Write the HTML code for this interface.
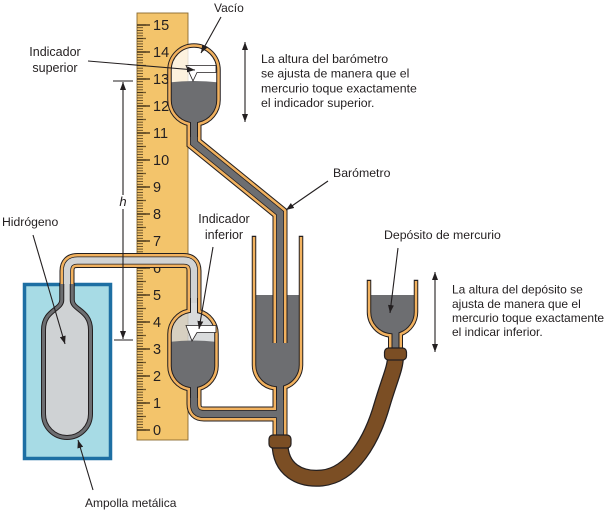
<!DOCTYPE html>
<html><head><meta charset="utf-8">
<style>
html,body{margin:0;padding:0;background:#fff;}
svg{display:block;}
text{font-family:"Liberation Sans",Arial,sans-serif;fill:#231f20;}
</style></head><body>
<svg width="607" height="512" viewBox="0 0 607 512" xmlns="http://www.w3.org/2000/svg">
<defs>
<marker id="ah" viewBox="0 0 8 6" refX="8" refY="3" markerWidth="8" markerHeight="6" markerUnits="userSpaceOnUse" orient="auto-start-reverse"><path d="M0,0 L8,3 L0,6 z" fill="#231f20"/></marker>
<pattern id="pmin" patternUnits="userSpaceOnUse" x="137" y="428.65" width="20" height="2.7"><line x1="0" y1="1.35" x2="6" y2="1.35" stroke="#3a2a12" stroke-width="0.75"/></pattern>
<pattern id="pmid" patternUnits="userSpaceOnUse" x="137" y="423.25" width="20" height="13.5"><line x1="0" y1="6.75" x2="9" y2="6.75" stroke="#3a2a12" stroke-width="0.9"/></pattern>
<pattern id="pmaj" patternUnits="userSpaceOnUse" x="137" y="416.5" width="20" height="27"><line x1="0" y1="13.5" x2="13" y2="13.5" stroke="#3a2a12" stroke-width="1.3"/></pattern>
<clipPath id="cTop"><path d="M188.75,137 L188.75,123.9 A24.5,24.5 0 0 1 169.5,100 L169.5,70 A24.5,24.5 0 0 1 218.5,70 L218.5,100 A24.5,24.5 0 0 1 199.25,123.9 L199.25,137 Z"/></clipPath>
<clipPath id="cLow"><path d="M188.75,298 L188.75,310.9 A23.5,23.5 0 0 0 169.5,334 L169.5,366 A23.5,23.5 0 0 0 188.75,389.1 L188.75,400 L199.25,400 L199.25,388.65 A23.5,23.5 0 0 0 216.5,366 L216.5,334 A23.5,23.5 0 0 0 199.25,311.35 L199.25,298 Z"/></clipPath>
</defs>

<!-- Blue box + metal bulb -->
<rect x="24.5" y="284.5" width="86" height="174" fill="#a7dbe5" stroke="#1d6fa3" stroke-width="3.5"/>
<path d="M61.75,283 L61.75,300 C61.75,310 43.5,310 43.5,330 L43.5,414 A23.5,23.5 0 0 0 90.5,414 L90.5,330 C90.5,310 72.25,310 72.25,300 L72.25,283 Z" fill="#cfd2d4"/>
<g fill="none">
<path d="M61.75,283 L61.75,300 C61.75,310 43.5,310 43.5,330 L43.5,414 A23.5,23.5 0 0 0 90.5,414 L90.5,330 C90.5,310 72.25,310 72.25,300 L72.25,283" stroke="#231f20" stroke-width="5"/>
<path d="M61.75,283 L61.75,300 C61.75,310 43.5,310 43.5,330 L43.5,414 A23.5,23.5 0 0 0 90.5,414 L90.5,330 C90.5,310 72.25,310 72.25,300 L72.25,283" stroke="#6d6e71" stroke-width="3"/>
</g>

<!-- Ruler -->
<rect x="137" y="13" width="51" height="427" fill="#f3c46b" stroke="#8a6a30" stroke-width="0.9"/>
<rect x="137" y="24" width="20" height="407" fill="url(#pmin)"/>
<rect x="137" y="24" width="20" height="407" fill="url(#pmid)"/>
<rect x="137" y="24" width="20" height="407" fill="url(#pmaj)"/>
<g font-size="14.5">
<text x="153" y="435.2">0</text>
<text x="153" y="408.2">1</text>
<text x="153" y="381.2">2</text>
<text x="153" y="354.2">3</text>
<text x="153" y="327.2">4</text>
<text x="153" y="300.2">5</text>
<text x="153" y="273.2">6</text>
<text x="153" y="246.2">7</text>
<text x="153" y="219.2">8</text>
<text x="153" y="192.2">9</text>
<text x="153" y="165.2">10</text>
<text x="153" y="138.2">11</text>
<text x="153" y="111.2">12</text>
<text x="153" y="84.2">13</text>
<text x="153" y="57.2">14</text>
<text x="153" y="30.2">15</text>
</g>

<!-- Interiors -->
<path d="M254,295 L301,295 L301,365 A23.5,23.5 0 0 1 285.25,387.2 L285.25,401 L274.75,401 L274.75,388.3 A23.5,23.5 0 0 1 254,365 Z" fill="#6d6e71"/>
<path d="M369,295 L416,295 L416,312 A23.5,23.5 0 0 1 400.75,334 L400.75,353 L390.25,353 L390.25,335.4 A23.5,23.5 0 0 1 369,312 Z" fill="#6d6e71"/>
<g clip-path="url(#cTop)">
<rect x="160" y="40" width="70" height="100" fill="#ffffff" fill-opacity="0.78"/>
<path d="M165,83 Q194,79 223,83 L223,140 L165,140 Z" fill="#6d6e71"/>
</g>
<g clip-path="url(#cLow)">
<rect x="160" y="295" width="70" height="110" fill="#d1d3d4" fill-opacity="0.82"/>
<path d="M165,342.5 Q193,338.5 221,342.5 L221,405 L165,405 Z" fill="#6d6e71"/>
</g>

<!-- Tubes (layered) -->
<g fill="none" stroke-linejoin="miter">
<g stroke="#231f20" stroke-width="15">
<path d="M194,133 L194,143 L280,213 L280,343"/>
<path d="M67,284 L67,271 Q67,260.5 77.5,260.5 L183.5,260.5 Q194,260.5 194,271 L194,303"/>
<path d="M194,394 L194,404 Q194,414 204,414 L280,414"/>
<path d="M280,394 L280,442"/>
</g>
<g stroke="#f2b25f" stroke-width="13">
<path d="M194,133 L194,143 L280,213 L280,343"/>
<path d="M67,284 L67,271 Q67,260.5 77.5,260.5 L183.5,260.5 Q194,260.5 194,271 L194,303"/>
<path d="M194,394 L194,404 Q194,414 204,414 L280,414"/>
<path d="M280,394 L280,442"/>
</g>
<g stroke="#231f20" stroke-width="8">
<path d="M194,133 L194,143 L280,213 L280,343"/>
<path d="M67,284 L67,271 Q67,260.5 77.5,260.5 L183.5,260.5 Q194,260.5 194,271 L194,303"/>
<path d="M194,394 L194,404 Q194,414 204,414 L280,414"/>
<path d="M280,394 L280,442"/>
</g>
<g stroke-width="6.5">
<path d="M194,133 L194,143 L280,213 L280,343" stroke="#6d6e71"/>
<path d="M67,284 L67,271 Q67,260.5 77.5,260.5 L183.5,260.5 Q194,260.5 194,271 L194,303" stroke="#d1d3d4"/>
<path d="M194,394 L194,404 Q194,414 204,414 L280,414" stroke="#6d6e71"/>
<path d="M280,394 L280,442" stroke="#6d6e71"/>
</g>
</g>

<!-- Walls of bulbs / reservoirs -->
<g fill="none">
<g stroke="#231f20" stroke-width="4.5">
<path d="M188.75,137 L188.75,123.9 A24.5,24.5 0 0 1 169.5,100 L169.5,70 A24.5,24.5 0 0 1 218.5,70 L218.5,100 A24.5,24.5 0 0 1 199.25,123.9 L199.25,137"/>
<path d="M188.75,298 L188.75,310.9 A23.5,23.5 0 0 0 169.5,334 L169.5,366 A23.5,23.5 0 0 0 188.75,389.1 L188.75,398"/>
<path d="M199.25,298 L199.25,311.35 A23.5,23.5 0 0 1 216.5,334 L216.5,366 A23.5,23.5 0 0 1 199.25,388.65 L199.25,398"/>
<path d="M254,235.8 L254,365 A23.5,23.5 0 0 0 274.75,388.3 L274.75,400"/>
<path d="M301,235.8 L301,365 A23.5,23.5 0 0 1 285.25,387.2 L285.25,400"/>
<path d="M369,279.8 L369,312 A23.5,23.5 0 0 0 390.25,335.4 L390.25,352"/>
<path d="M416,279.8 L416,312 A23.5,23.5 0 0 1 400.75,334 L400.75,352"/>
</g>
<g stroke="#f2b25f" stroke-width="2.5">
<path d="M188.75,137 L188.75,123.9 A24.5,24.5 0 0 1 169.5,100 L169.5,70 A24.5,24.5 0 0 1 218.5,70 L218.5,100 A24.5,24.5 0 0 1 199.25,123.9 L199.25,137"/>
<path d="M188.75,298 L188.75,310.9 A23.5,23.5 0 0 0 169.5,334 L169.5,366 A23.5,23.5 0 0 0 188.75,389.1 L188.75,398"/>
<path d="M199.25,298 L199.25,311.35 A23.5,23.5 0 0 1 216.5,334 L216.5,366 A23.5,23.5 0 0 1 199.25,388.65 L199.25,398"/>
<path d="M254,237 L254,365 A23.5,23.5 0 0 0 274.75,388.3 L274.75,400"/>
<path d="M301,237 L301,365 A23.5,23.5 0 0 1 285.25,387.2 L285.25,400"/>
<path d="M369,281 L369,312 A23.5,23.5 0 0 0 390.25,335.4 L390.25,352"/>
<path d="M416,281 L416,312 A23.5,23.5 0 0 1 400.75,334 L400.75,352"/>
</g>
</g>

<!-- Indicators -->
<polygon points="186,65.5 216,65.5 216,72.5 197,72.5 193,81" fill="#fff" stroke="#231f20" stroke-width="0.8"/>
<polygon points="186,325.5 216,325.5 216,332.5 197,332.5 192,341" fill="#fff" stroke="#231f20" stroke-width="0.8"/>

<!-- Rubber hose -->
<path d="M280,443 C280,470 300,480 322,478 C352,475 372,440 382,405 C390,378 395.5,368 395.5,356" fill="none" stroke="#231f20" stroke-width="17"/>
<path d="M280,443 C280,470 300,480 322,478 C352,475 372,440 382,405 C390,378 395.5,368 395.5,356" fill="none" stroke="#7b4e24" stroke-width="14.5"/>
<rect x="269" y="435" width="22" height="13" rx="4" fill="#7b4e24" stroke="#231f20" stroke-width="1.2"/>
<rect x="384.5" y="348" width="22" height="12" rx="4" fill="#7b4e24" stroke="#231f20" stroke-width="1.2"/>

<!-- h dimension -->
<g stroke="#231f20" stroke-width="1.1" fill="none">
<line x1="113" y1="81" x2="133" y2="81"/>
<line x1="114" y1="340" x2="133" y2="340"/>
<line x1="123" y1="195" x2="123" y2="82" marker-end="url(#ah)"/>
<line x1="123" y1="209" x2="123" y2="339" marker-end="url(#ah)"/>
</g>
<text x="123" y="206" font-size="13" font-style="italic" text-anchor="middle">h</text>

<!-- Labels and arrows -->
<g stroke="#231f20" stroke-width="1.1" fill="none">
<line x1="221" y1="17" x2="201" y2="53" marker-end="url(#ah)"/>
<line x1="88" y1="61" x2="195" y2="70" marker-end="url(#ah)"/>
<line x1="245" y1="42" x2="245" y2="122" marker-start="url(#ah)" marker-end="url(#ah)"/>
<line x1="328" y1="181" x2="286" y2="210" marker-end="url(#ah)"/>
<line x1="213" y1="247" x2="199" y2="329" marker-end="url(#ah)"/>
<line x1="398" y1="248" x2="390" y2="313" marker-end="url(#ah)"/>
<line x1="435" y1="272" x2="435" y2="352" marker-start="url(#ah)" marker-end="url(#ah)"/>
<line x1="33" y1="235" x2="65" y2="344" marker-end="url(#ah)"/>
<line x1="93" y1="490" x2="78" y2="440" marker-end="url(#ah)"/>
</g>
<g font-size="12">
<text x="214" y="12">Vacío</text>
<text x="55" y="56" text-anchor="middle" font-size="12.5">Indicador</text>
<text x="55" y="72" text-anchor="middle" font-size="12.5">superior</text>
<text x="333" y="177" font-size="12.3">Barómetro</text>
<text x="224" y="223" text-anchor="middle" font-size="12.5">Indicador</text>
<text x="224" y="239" text-anchor="middle" font-size="12.5">inferior</text>
<text x="384" y="239" font-size="12.3">Depósito de mercurio</text>
<text x="2" y="226" font-size="12.2">Hidrógeno</text>
<text x="85" y="507">Ampolla metálica</text>
<g font-size="12.3">
<text x="261" y="63">La altura del barómetro</text>
<text x="261" y="77.7">se ajusta  de manera que el</text>
<text x="261" y="92.4">mercurio toque exactamente</text>
<text x="261" y="107">el indicador superior.</text>
</g>
<text x="452" y="293.5">La altura del  depósito se</text>
<text x="452" y="307.8">ajusta de manera que el</text>
<text x="452" y="322">mercurio toque exactamente</text>
<text x="452" y="336">el indicar inferior.</text>
</g>
</svg>
</body></html>
